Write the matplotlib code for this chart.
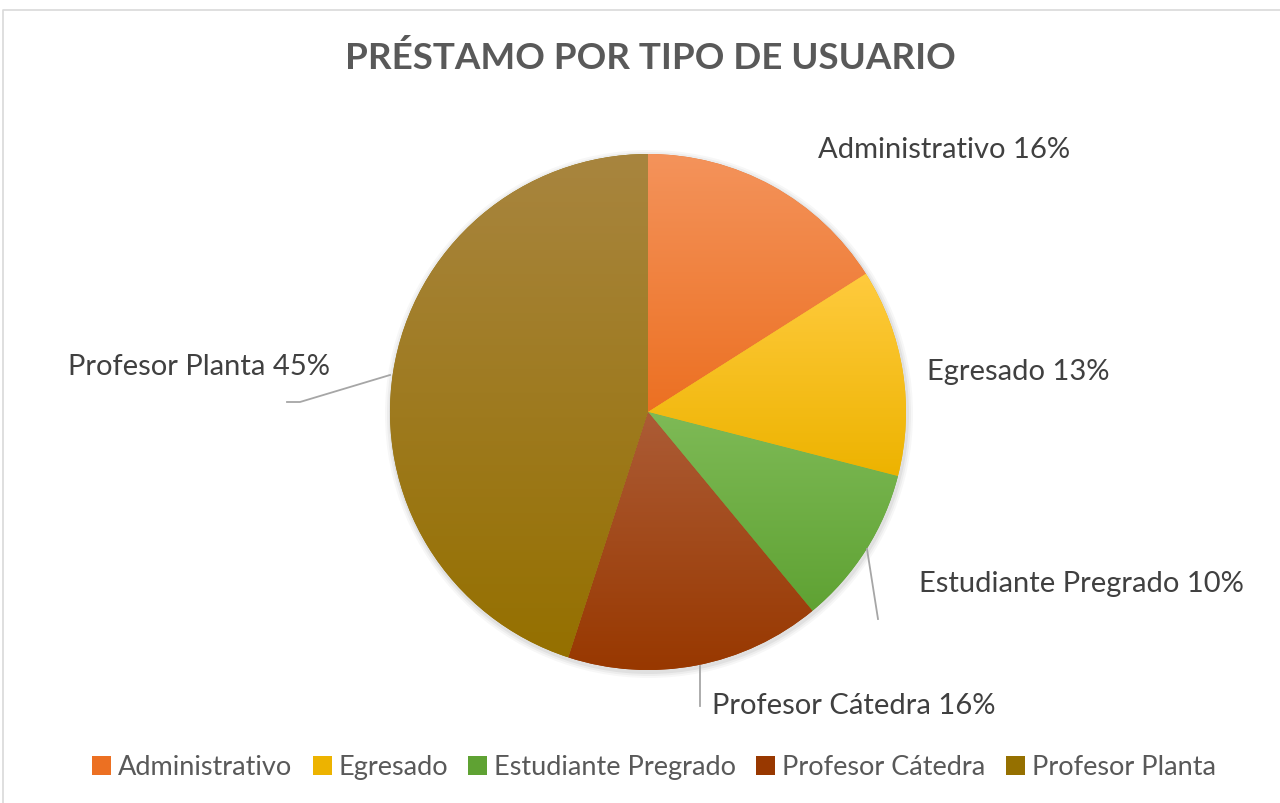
import matplotlib

matplotlib.use("Agg")
import matplotlib.pyplot as plt
import numpy as np
from matplotlib.colors import to_rgb
from matplotlib.patches import Rectangle

plt.rcParams["font.family"] = ["Lato", "DejaVu Sans"]

CATEGORIES = ["Administrativo", "Egresado", "Estudiante Pregrado", "Profesor Cátedra", "Profesor Planta"]
SHARES = [16, 13, 10, 16, 45]
TITLE = "PRÉSTAMO POR TIPO DE USUARIO"

TOP_COLORS = ["#F4935B", "#FFCB3E", "#7EBA56", "#AC5C36", "#A8853F"]
BOTTOM_COLORS = ["#EC7022", "#EDB300", "#5FA233", "#983800", "#957000"]

W, H = 1280, 804


def py(y):
    # pixel row (from top) to data y
    return H - y


def gradient_fill(ax, wedge, top, bottom):
    ext = wedge.get_path().get_extents()
    t = np.linspace(0, 1, 256)[:, None]
    c0 = np.array(to_rgb(bottom))
    c1 = np.array(to_rgb(top))
    img = (c0 + (c1 - c0) * t)[:, None, :]
    ax.imshow(img, extent=[ext.x0, ext.x1, ext.y0, ext.y1], origin="lower",
              aspect="auto", clip_path=wedge, zorder=2, interpolation="bilinear")


def main() -> None:
    fig = plt.figure(figsize=(W / 100, H / 100), dpi=100)
    ax = fig.add_axes([0, 0, 1, 1])

    cx, cy, r = 648, py(413), 258

    # soft shadow
    for k, a in enumerate([0.05, 0.04, 0.03]):
        ax.add_patch(plt.Circle((cx + 1, cy - 2), r + 2 + 2 * k, color="black", alpha=a, lw=0, zorder=1))

    wedges, _ = ax.pie(SHARES, startangle=90, counterclock=False, center=(cx, cy), radius=r,
                       colors=BOTTOM_COLORS, wedgeprops=dict(linewidth=0, zorder=2))
    for w, top, bot in zip(wedges, TOP_COLORS, BOTTOM_COLORS):
        w.set_zorder(2)
        gradient_fill(ax, w, top, bot)

    ax.set_xlim(0, W)
    ax.set_ylim(0, H)
    ax.set_aspect("auto")
    ax.axis("off")

    # chart border
    ax.plot([2.5, 2.5, W], [0, py(10.5), py(10.5)], color="#D9D9D9", lw=1.2, zorder=0)

    ax.text(650, py(58), TITLE, ha="center", va="center", fontsize=26.5, fontweight="bold", color="#595959")

    label_pos = [
        (818, 150, "left"),
        (927, 372, "left"),
        (919, 584, "left"),
        (712, 706, "left"),
        (330, 367, "right"),
    ]
    for name, share, (x, y, ha) in zip(CATEGORIES, SHARES, label_pos):
        ax.text(x, py(y), f"{name} {share}%", ha=ha, va="center", fontsize=21, color="#404040")

    leader = [
        ([867, 878], [550, 620]),
        ([700, 700], [667, 707]),
        ([390, 300, 287], [376, 403, 403]),
    ]
    for xs, ys in leader:
        ax.plot(xs, [py(v) for v in ys], color="#A6A6A6", lw=1.3, zorder=3)

    handles = [Rectangle((0, 0), 1, 1, facecolor=c, edgecolor="none") for c in BOTTOM_COLORS]
    fig.legend(handles, CATEGORIES, loc="center", bbox_to_anchor=(654 / W, 1 - 768 / H), ncol=5,
               frameon=False, fontsize=19.5, handlelength=0.7, handleheight=0.7, handletextpad=0.25,
               columnspacing=0.75, labelcolor="#595959")

    fig.savefig("out.png", dpi=100)
    plt.close(fig)


if __name__ == "__main__":
    main()
